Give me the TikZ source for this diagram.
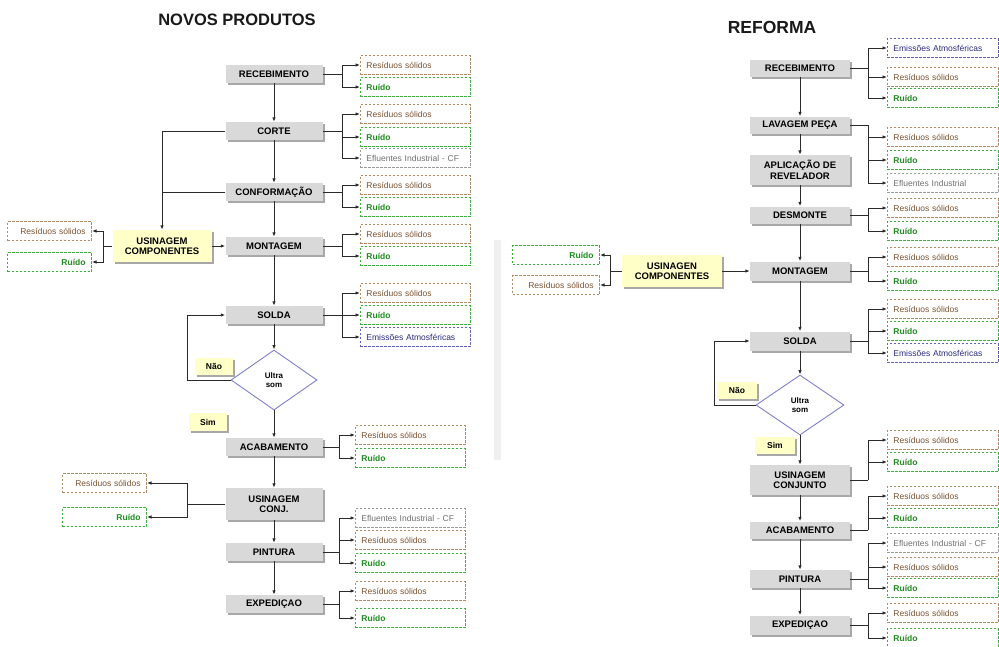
\documentclass[tikz,border=0pt]{standalone}
\usepackage{fontspec}
\setmainfont{Liberation Sans}
\usetikzlibrary{arrows.meta,shapes.geometric,shadows}
\definecolor{boxgray}{HTML}{D9D9D9}
\definecolor{shadowgray}{HTML}{A8A8A8}
\definecolor{ylw}{HTML}{FFFFC8}
\definecolor{linec}{HTML}{2A2A2A}
\definecolor{rest}{HTML}{7A5230}
\definecolor{resb}{HTML}{B08A60}
\definecolor{ruit}{HTML}{1E8C1E}
\definecolor{ruib}{HTML}{3CB03C}
\definecolor{eflt}{HTML}{707070}
\definecolor{eflb}{HTML}{9A9A9A}
\definecolor{emit}{HTML}{2B2B80}
\definecolor{emib}{HTML}{6060B8}
\definecolor{diab}{HTML}{8080C8}
\definecolor{sepc}{HTML}{EFEFEF}
\begin{document}
\begin{tikzpicture}[x=1pt,y=-1pt,
  proc/.style={fill=boxgray, minimum width=97pt, minimum height=18pt, inner sep=1pt,
    font=\bfseries\fontsize{9.5}{10.5}\selectfont, align=center,
    drop shadow={shadow xshift=2pt,shadow yshift=-2pt,fill=shadowgray,opacity=1}},
  ybox/.style={proc, fill=ylw},
  dia/.style={shape=diamond, draw=diab, line width=0.9pt, fill=white, minimum width=86pt,
    minimum height=60pt, inner sep=0pt, align=center, font=\bfseries\fontsize{8}{9.5}\selectfont},
  outb/.style={draw, dash pattern=on 2.5pt off 1.5pt, line width=0.9pt, minimum height=19pt,
    text width=98pt, align=left, inner xsep=6pt, inner ysep=0pt, anchor=west,
    font=\fontsize{8.5}{9.5}\selectfont},
  outl/.style={outb, anchor=east, text width=72pt, align=right},
  res/.style={draw=resb, text=rest},
  rui/.style={draw=ruib, text=ruit, font=\bfseries\fontsize{8.5}{9.5}\selectfont},
  efl/.style={draw=eflb, text=eflt},
  emi/.style={draw=emib, text=emit},
  ln/.style={line width=1pt, draw=linec},
  arr/.style={ln, -{Latex[length=4.5pt,width=3.5pt]}},
  ttl/.style={font=\bfseries\fontsize{16.5}{18}\selectfont, text=black!90}
]
\useasboundingbox (0,0) rectangle (999,646);
\clip (0,0) rectangle (999,646);
\fill[white] (0,0) rectangle (999,646);
\fill[sepc] (494,240) rectangle (501,460);

% ================= NOVOS PRODUTOS =================
\node[ttl] (T1) at (237,20) {NOVOS PRODUTOS};

\node[proc] (L1) at (274,74) {RECEBIMENTO};
\node[proc] (L2) at (274,131) {CORTE};
\node[proc] (L3) at (274,192) {CONFORMAÇÃO};
\node[proc] (L4) at (274,246) {MONTAGEM};
\node[proc] (L5) at (274,315) {SOLDA};
\node[dia] (LD) at (274,380) {Ultra\\som};
\node[proc] (L6) at (274,447) {ACABAMENTO};
\node[proc, minimum height=32pt] (L7) at (274,504) {USINAGEM\\CONJ.};
\node[proc] (L8) at (274,552) {PINTURA};
\node[proc] (L9) at (274,604) {EXPEDIÇAO};
\node[ybox, minimum width=99pt, minimum height=32pt] (LU) at (162,246) {USINAGEM\\COMPONENTES};
\node[ybox, minimum width=38pt, minimum height=17pt, font=\bfseries\fontsize{8.5}{9.5}\selectfont] (LN) at (214,366) {Não};
\node[ybox, minimum width=38pt, minimum height=18pt, font=\bfseries\fontsize{8.5}{9.5}\selectfont] (LS) at (208,422) {Sim};

\draw[arr] (L1) -- (L2);
\draw[arr] (L2) -- (L3);
\draw[arr] (L3) -- (L4);
\draw[arr] (L4) -- (L5);
\draw[arr] (L5) -- (LD);
\draw[arr] (LD) -- (L6);
\draw[arr] (L6) -- (L7);
\draw[arr] (L7) -- (L8);
\draw[arr] (L8) -- (L9);
\draw[arr] (L2.west) -| (LU.north);
\coordinate (m1) at (LU.north |- L3.west);
\draw[ln] (L3.west) -- (m1);
\draw[arr] (LU.east) -- (L4.west);
\coordinate (lp1) at (187,380);
\draw[arr] (LD.west) -- (lp1) |- (L5.west);

% outputs of RECEBIMENTO
\node[outb,res] (o11) at (360,65) {Resíduos sólidos};
\node[outb,rui] (o12) at (360,87) {Ruído};
\coordinate (j1) at (342,74);
\draw[ln] (L1.east) -- (j1);
\draw[arr] (j1) |- (o11.west);
\draw[arr] (j1) |- (o12.west);
% CORTE
\node[outb,res] (o21) at (360,114) {Resíduos sólidos};
\node[outb,rui] (o22) at (360,137) {Ruído};
\node[outb,efl] (o23) at (360,158) {Efluentes Industrial - CF};
\coordinate (j2) at (342,131);
\draw[ln] (L2.east) -- (j2);
\draw[arr] (j2) |- (o21.west);
\draw[arr] (j2) |- (o22.west);
\draw[arr] (j2) |- (o23.west);
% CONFORMACAO
\node[outb,res] (o31) at (360,185) {Resíduos sólidos};
\node[outb,rui] (o32) at (360,207) {Ruído};
\coordinate (j3) at (342,192);
\draw[ln] (L3.east) -- (j3);
\draw[arr] (j3) |- (o31.west);
\draw[arr] (j3) |- (o32.west);
% MONTAGEM
\node[outb,res] (o41) at (360,234) {Resíduos sólidos};
\node[outb,rui] (o42) at (360,256) {Ruído};
\coordinate (j4) at (342,246);
\draw[ln] (L4.east) -- (j4);
\draw[arr] (j4) |- (o41.west);
\draw[arr] (j4) |- (o42.west);
% SOLDA
\node[outb,res] (o51) at (360,293) {Resíduos sólidos};
\node[outb,rui] (o52) at (360,315) {Ruído};
\node[outb,emi] (o53) at (360,337) {Emissões Atmosféricas};
\coordinate (j5) at (342,315);
\draw[ln] (L5.east) -- (j5);
\draw[arr] (j5) |- (o51.west);
\draw[arr] (j5) |- (o52.west);
\draw[arr] (j5) |- (o53.west);
% ACABAMENTO
\node[outb,res] (o61) at (355,435) {Resíduos sólidos};
\node[outb,rui] (o62) at (355,458) {Ruído};
\coordinate (j6) at (339,447);
\draw[ln] (L6.east) -- (j6);
\draw[arr] (j6) |- (o61.west);
\draw[arr] (j6) |- (o62.west);
% PINTURA
\node[outb,efl] (o81) at (355,518) {Efluentes Industrial - CF};
\node[outb,res] (o82) at (355,540) {Resíduos sólidos};
\node[outb,rui] (o83) at (355,563) {Ruído};
\coordinate (j8) at (339,552);
\draw[ln] (L8.east) -- (j8);
\draw[arr] (j8) |- (o81.west);
\draw[arr] (j8) |- (o82.west);
\draw[arr] (j8) |- (o83.west);
% EXPEDICAO
\node[outb,res] (o91) at (355,591) {Resíduos sólidos};
\node[outb,rui] (o92) at (355,618) {Ruído};
\coordinate (j9) at (339,604);
\draw[ln] (L9.east) -- (j9);
\draw[arr] (j9) |- (o91.west);
\draw[arr] (j9) |- (o92.west);
% USINAGEM COMPONENTES (left)
\node[outl,res] (u1) at (92,231) {Resíduos sólidos};
\node[outl,rui] (u2) at (92,262) {Ruído};
\coordinate (ju) at (103,246);
\draw[ln] (LU.west) -- (ju);
\draw[arr] (ju) |- (u1.east);
\draw[arr] (ju) |- (u2.east);
% USINAGEM CONJ (left)
\node[outl,res] (c1) at (147,483) {Resíduos sólidos};
\node[outl,rui] (c2) at (147,517) {Ruído};
\coordinate (jc) at (187,504);
\draw[ln] (L7.west) -- (jc);
\draw[arr] (jc) |- (c1.east);
\draw[arr] (jc) |- (c2.east);

% ================= REFORMA =================
\node[ttl, font=\bfseries\fontsize{17.5}{19}\selectfont] (T2) at (772,27) {REFORMA};

\node[proc, minimum width=100pt, minimum height=17pt] (R1) at (800,68) {RECEBIMENTO};
\node[proc, minimum width=100pt, minimum height=17pt] (R2) at (800,125) {LAVAGEM PEÇA};
\node[proc, minimum width=100pt, minimum height=30pt] (R3) at (800,170) {APLICAÇÃO DE\\REVELADOR};
\node[proc, minimum width=100pt, minimum height=17pt] (R4) at (800,215) {DESMONTE};
\node[proc, minimum width=100pt, minimum height=19pt] (R5) at (800,271) {MONTAGEM};
\node[proc, minimum width=100pt, minimum height=19pt] (R6) at (800,341) {SOLDA};
\node[dia, minimum width=88pt] (RD) at (800,405) {Ultra\\som};
\node[proc, minimum width=100pt, minimum height=30pt] (R7) at (800,480) {USINAGEM\\CONJUNTO};
\node[proc, minimum width=100pt, minimum height=17pt] (R8) at (800,530) {ACABAMENTO};
\node[proc, minimum width=100pt, minimum height=18pt] (R9) at (800,579) {PINTURA};
\node[proc, minimum width=100pt, minimum height=19pt] (R10) at (800,625) {EXPEDIÇAO};
\node[ybox, minimum width=100pt, minimum height=32pt] (RU) at (672,271) {USINAGEN\\COMPONENTES};
\node[ybox, minimum width=40pt, minimum height=17pt, font=\bfseries\fontsize{8.5}{9.5}\selectfont] (RN) at (737,390) {Não};
\node[ybox, minimum width=40pt, minimum height=17pt, font=\bfseries\fontsize{8.5}{9.5}\selectfont] (RS) at (775,445) {Sim};

\draw[arr] (R1) -- (R2);
\draw[arr] (R2) -- (R3);
\draw[arr] (R3) -- (R4);
\draw[arr] (R4) -- (R5);
\draw[arr] (R5) -- (R6);
\draw[arr] (R6) -- (RD);
\draw[arr] (RD) -- (R7);
\draw[arr] (R7) -- (R8);
\draw[arr] (R8) -- (R9);
\draw[arr] (R9) -- (R10);
\draw[arr] (RU.east) -- (R5.west);
\coordinate (lp2) at (714,405);
\draw[arr] (RD.west) -- (lp2) |- (R6.west);

% right outputs
\tikzset{rout/.style={outb, text width=99pt}}
\node[rout,emi] (p11) at (887,48) {Emissões Atmosféricas};
\node[rout,res] (p12) at (887,77) {Resíduos sólidos};
\node[rout,rui] (p13) at (887,98) {Ruído};
\coordinate (k1) at (868,68);
\draw[ln] (R1.east) -- (k1);
\draw[arr] (k1) |- (p11.west);
\draw[arr] (k1) |- (p12.west);
\draw[arr] (k1) |- (p13.west);

\node[rout,res] (p21) at (887,137) {Resíduos sólidos};
\node[rout,rui] (p22) at (887,160) {Ruído};
\node[rout,efl] (p23) at (887,183) {Efluentes Industrial};
\coordinate (k2) at (868,125);
\draw[ln] (R2.east) -- (k2);
\draw[arr] (k2) |- (p21.west);
\draw[arr] (k2) |- (p22.west);
\draw[arr] (k2) |- (p23.west);

\node[rout,res] (p41) at (887,208) {Resíduos sólidos};
\node[rout,rui] (p42) at (887,231) {Ruído};
\coordinate (k4) at (868,215);
\draw[ln] (R4.east) -- (k4);
\draw[arr] (k4) |- (p41.west);
\draw[arr] (k4) |- (p42.west);

\node[rout,res] (p51) at (887,257) {Resíduos sólidos};
\node[rout,rui] (p52) at (887,281) {Ruído};
\coordinate (k5) at (868,271);
\draw[ln] (R5.east) -- (k5);
\draw[arr] (k5) |- (p51.west);
\draw[arr] (k5) |- (p52.west);

\node[rout,res] (p61) at (887,309) {Resíduos sólidos};
\node[rout,rui] (p62) at (887,331) {Ruído};
\node[rout,emi] (p63) at (887,353) {Emissões Atmosféricas};
\coordinate (k6) at (868,341);
\draw[ln] (R6.east) -- (k6);
\draw[arr] (k6) |- (p61.west);
\draw[arr] (k6) |- (p62.west);
\draw[arr] (k6) |- (p63.west);

\node[rout,res] (p71) at (887,440) {Resíduos sólidos};
\node[rout,rui] (p72) at (887,462) {Ruído};
\coordinate (k7) at (868,480);
\draw[ln] (R7.east) -- (k7);
\draw[arr] (k7) |- (p71.west);
\draw[arr] (k7) |- (p72.west);

\node[rout,res] (p81) at (887,496) {Resíduos sólidos};
\node[rout,rui] (p82) at (887,518) {Ruído};
\coordinate (k8) at (868,530);
\draw[ln] (R8.east) -- (k8);
\draw[arr] (k8) |- (p81.west);
\draw[arr] (k8) |- (p82.west);

\node[rout,efl] (p91) at (887,543) {Efluentes Industrial - CF};
\node[rout,res] (p92) at (887,567) {Resíduos sólidos};
\node[rout,rui] (p93) at (887,588) {Ruído};
\coordinate (k9) at (868,579);
\draw[ln] (R9.east) -- (k9);
\draw[arr] (k9) |- (p91.west);
\draw[arr] (k9) |- (p92.west);
\draw[arr] (k9) |- (p93.west);

\node[rout,res] (p101) at (887,613) {Resíduos sólidos};
\node[rout,rui] (p102) at (887,638) {Ruído};
\coordinate (k10) at (868,625);
\draw[ln] (R10.east) -- (k10);
\draw[arr] (k10) |- (p101.west);
\draw[arr] (k10) |- (p102.west);

% USINAGEN COMPONENTES outputs (left)
\node[outl,rui, text width=75pt] (q1) at (600,255) {Ruído};
\node[outl,res, text width=75pt] (q2) at (600,285) {Resíduos sólidos};
\coordinate (kq) at (610,271);
\draw[ln] (RU.west) -- (kq);
\draw[arr] (kq) |- (q1.east);
\draw[arr] (kq) |- (q2.east);
\end{tikzpicture}
\end{document}
